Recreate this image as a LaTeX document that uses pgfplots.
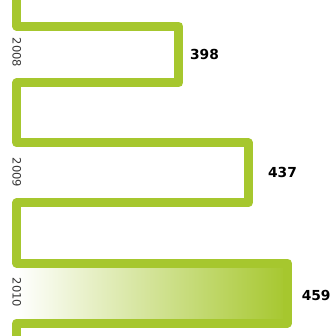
\documentclass[border=0pt]{standalone}
\usepackage{pgfplots}
\pgfplotsset{compat=1.18}
\usepackage{fontspec}
\setmainfont{DejaVu Sans}
\definecolor{barGreen}{RGB}{166,199,46}
\definecolor{yearGray}{RGB}{55,55,55}
\begin{document}
\begin{tikzpicture}
\begin{axis}[
  scale only axis,
  width=333pt, height=336pt,
  xmin=297.6, xmax=484.5,
  ymin=0, ymax=336, y dir=reverse,
  hide axis,
]
% shaded band for the latest year
\addplot[draw=none, left color=white, right color=barGreen]
  coordinates {(307,263) (459,263) (459,323) (307,323)} -- cycle;
% one continuous ribbon, turning out to each year's value
\addplot[barGreen, line width=9pt, line join=round, line cap=butt, mark=none]
  coordinates {
    (307,-10) (307,26.2)
    (398,26.2) (398,82.8) (307,82.8)
    (307,142.8)
    (437,142.8) (437,202.8) (307,202.8)
    (307,263)
    (459,263) (459,323) (307,323)
    (307,346)
  };
% year labels
\node[rotate=-90, font=\fontsize{11.5}{12}\selectfont, text=yearGray] at (axis cs:307,52.5) {2008};
\node[rotate=-90, font=\fontsize{11.5}{12}\selectfont, text=yearGray] at (axis cs:307,172.5) {2009};
\node[rotate=-90, font=\fontsize{11.5}{12}\selectfont, text=yearGray] at (axis cs:307,292.5) {2010};
% values
\node[anchor=west, inner sep=0pt, xshift=11pt, font=\fontsize{13.8}{14}\selectfont\bfseries] at (axis cs:398,54.5) {398};
\node[anchor=west, inner sep=0pt, xshift=19.5pt, font=\fontsize{13.8}{14}\selectfont\bfseries] at (axis cs:437,172.5) {437};
\node[anchor=west, inner sep=0pt, xshift=14pt, font=\fontsize{13.8}{14}\selectfont\bfseries] at (axis cs:459,295) {459};
\end{axis}
\pgfresetboundingbox
\path[use as bounding box] (current axis.south west) rectangle (current axis.north east);
\end{tikzpicture}
\end{document}
